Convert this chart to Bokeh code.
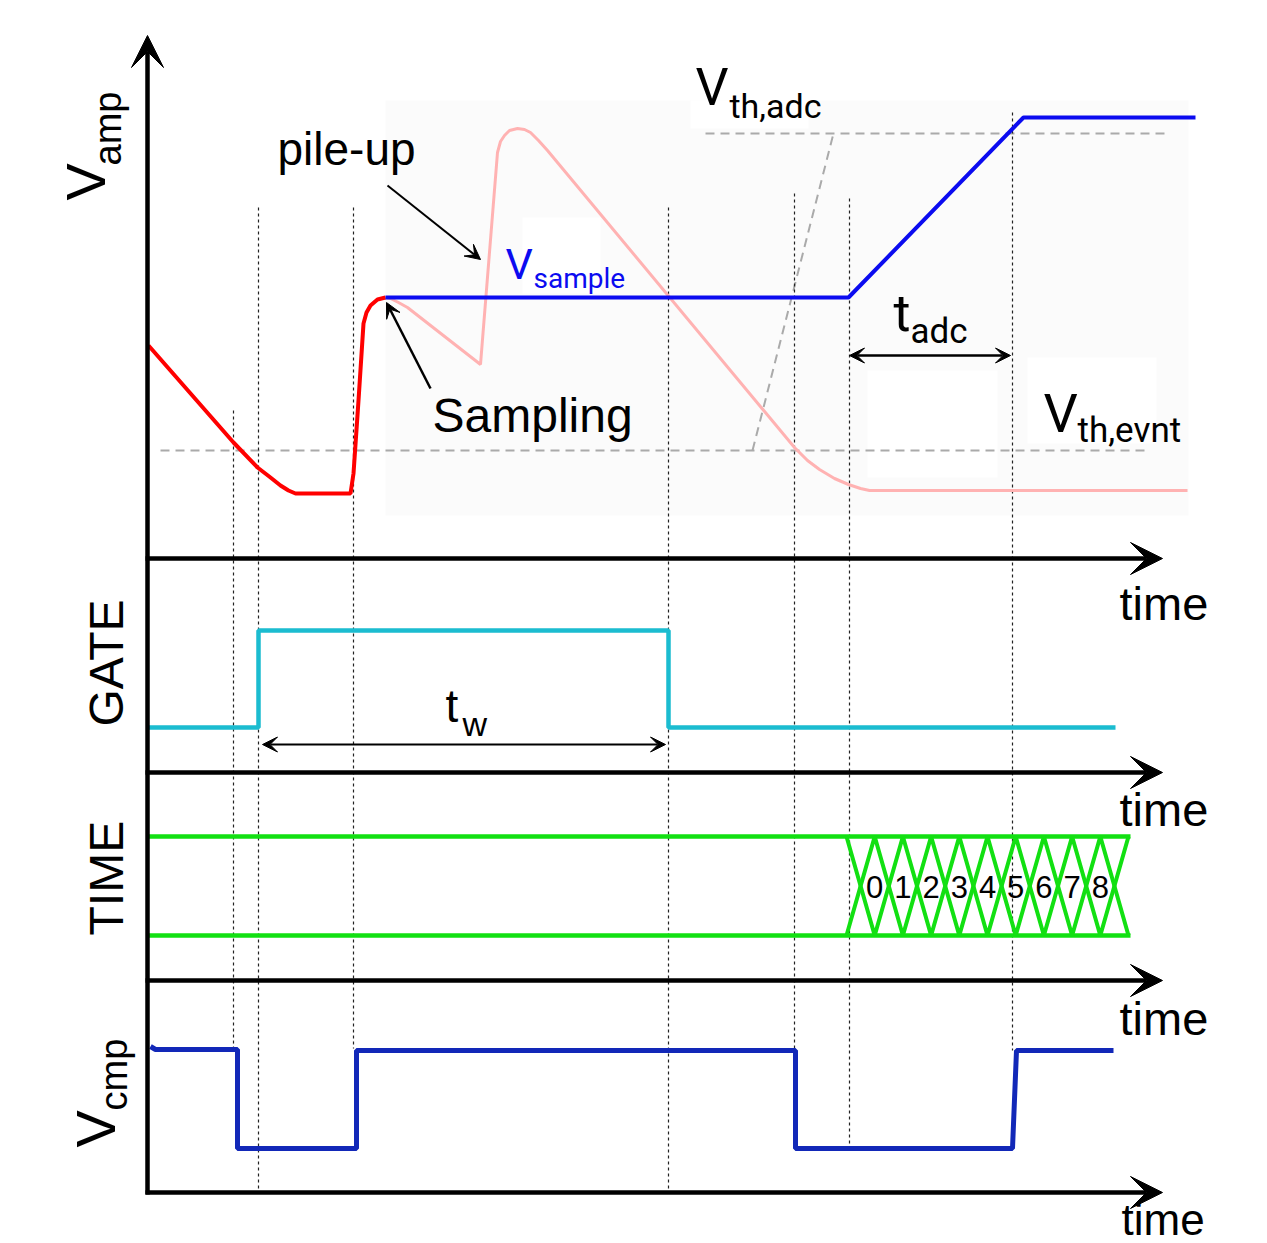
import numpy as np
from bokeh.plotting import figure
from bokeh.models import Range1d, Arrow, VeeHead
from bokeh.core.properties import value
from bokeh.embed import file_html
from bokeh.resources import INLINE

# ---------------- data (diagram units: x = time, y = level; y axis grows downward) -------------
# amplifier output before sampling (red)
amp_t = [148, 233, 257, 270, 280, 288, 295, 350, 353, 358, 363, 366, 370, 377, 385]
amp_v = [345, 442, 467, 477, 485, 490, 493, 493, 473, 400, 323, 312, 305, 299, 297]
# amplifier output continuing with pile-up (pink)
pile_t = [385, 390, 398, 407, 480, 497, 500, 504, 509, 517, 524, 530, 538, 547, 794, 807, 819, 834, 848, 860, 869, 1187]
pile_v = [297, 298, 302, 307, 364, 152, 141, 135, 130, 128, 129, 132, 140, 150, 447, 460, 469, 478, 484, 488, 490, 490]
# sampled voltage and ADC ramp (blue)
samp_t = [385, 848, 1023, 1195]
samp_v = [297, 297, 117, 117]
# GATE signal
gate_t = [148, 258, 258, 668, 668, 1115]
gate_v = [727, 727, 630, 630, 727, 727]
# comparator output
cmp_t = [150, 155, 237, 237, 356, 356, 795, 795, 1012, 1016, 1113]
cmp_v = [1046, 1049, 1049, 1148, 1148, 1050, 1050, 1148, 1148, 1050, 1050]
# TIME bus
bus_levels = [836, 935]
bus_t0, bus_t1 = 148, 1130
bus_start, bus_cell = 846, 28.2
bus_labels = ["0", "1", "2", "3", "4", "5", "6", "7", "8"]
# thresholds
vth_evnt = 450
vth_adc = 133
# event markers (dotted lines): time, top, bottom
mark_t = [233, 258, 353, 668, 794, 849, 1012]
mark_top = [410, 207, 207, 207, 193, 198, 112]
mark_bot = [1048, 1188, 1048, 1190, 1050, 1146, 1050]
# time axes
time_axes = [558, 772, 980, 1192]

W, H = 1267, 1243
p = figure(width=W, height=H, x_range=Range1d(0, W), y_range=Range1d(H, 0),
           output_backend="svg", toolbar_location=None, min_border=0,
           x_axis_type=None, y_axis_type=None)
p.grid.visible = False
p.outline_line_color = None
p.background_fill_color = "white"
p.border_fill_color = "white"

# faint background panel
p.quad(left=[385], right=[1188], top=[100], bottom=[515], fill_color="#fbfbfb", line_color=None)
p.quad(left=[522, 867, 1027, 690], right=[600, 997, 1156, 808], top=[217, 370, 357, 100],
       bottom=[293, 477, 443, 128], fill_color="white", line_color=None)

# thresholds
p.segment(x0=[160, 705], y0=[vth_evnt, vth_adc], x1=[1148, 1165], y1=[vth_evnt, vth_adc],
          line_color="#aaaaaa", line_width=2, line_dash="9 6")
p.segment(x0=[752], y0=[vth_evnt], x1=[833], y1=[vth_adc], line_color="#aaaaaa",
          line_width=2, line_dash="9 6")

# dotted markers
p.segment(x0=mark_t, y0=mark_top, x1=mark_t, y1=mark_bot, line_color="#222222",
          line_width=1.2, line_dash="3 3")

# waveforms
p.line(pile_t, pile_v, line_color="#ffb2b2", line_width=3)
p.line(amp_t, amp_v, line_color="#ff0000", line_width=4)
p.line(samp_t, samp_v, line_color="#0b0bf0", line_width=4)
p.line(gate_t, gate_v, line_color="#1bbcd0", line_width=4.5)
p.line(cmp_t, cmp_v, line_color="#1228b8", line_width=5)

# TIME bus
green = "#12e012"
p.segment(x0=[bus_t0] * 2, y0=bus_levels, x1=[bus_t1] * 2, y1=bus_levels, line_color=green, line_width=4.5)
n_v = len(bus_labels) + 2
vx = [bus_start + bus_cell * j for j in range(n_v)]
z1 = [bus_levels[j % 2] for j in range(n_v)]
z2 = [bus_levels[(j + 1) % 2] for j in range(n_v)]
p.line(vx, z1, line_color=green, line_width=4)
p.line(vx, z2, line_color=green, line_width=4)

# axes with arrows
for ya in time_axes:
    p.add_layout(Arrow(end=VeeHead(size=32, fill_color="black", line_color="black"),
                       x_start=145, y_start=ya, x_end=1162, y_end=ya, line_width=4.5, line_color="black"))
p.add_layout(Arrow(end=VeeHead(size=32, fill_color="black", line_color="black"),
                   x_start=147, y_start=1194, x_end=147, y_end=35, line_width=4.5, line_color="black"))

# annotation arrows
def small_head():
    return VeeHead(size=15, fill_color="black", line_color="black")

p.add_layout(Arrow(end=small_head(), x_start=387, y_start=185, x_end=480, y_end=259, line_width=2))
p.add_layout(Arrow(end=small_head(), x_start=430, y_start=388, x_end=386, y_end=302, line_width=2.5))
p.add_layout(Arrow(start=small_head(), end=small_head(), x_start=262, y_start=744, x_end=665, y_end=744, line_width=2))
p.add_layout(Arrow(start=small_head(), end=small_head(), x_start=849, y_start=355, x_end=1010, y_end=355, line_width=2.5))

SHIFT = 0.35  # compensation (em) so the glyph baseline lands on the intended line


def txt(x, y, s, size, font="Liberation Sans", color="black", angle=0.0, align="left"):
    if angle:
        x = x - SHIFT * size
    else:
        y = y - SHIFT * size
    p.text(x=[x], y=[y], text=[s], text_font=value(font), text_font_size=f"{size}px",
           text_color=color, angle=angle, text_align=align, text_baseline="alphabetic")


p.text(x=vx[1:-1], y=[897 - SHIFT * 31] * len(bus_labels), text=bus_labels,
       text_font=value("Liberation Sans"), text_font_size="31px", text_align="center",
       text_baseline="alphabetic", text_color="black")

txt(277, 165, "pile-up", 46)
txt(432, 432, "Sampling", 48)
txt(505, 279, "V", 43, "Roboto", "#0b0bf0")
txt(533, 288, "sample", 28, "Roboto", "#0b0bf0")
txt(695, 105, "V", 52, "Roboto")
txt(729, 117, "th,adc", 34, "Roboto")
txt(893, 331, "t", 52, "Roboto")
txt(910, 343, "adc", 35, "Roboto")
txt(1043, 432, "V", 54, "Roboto")
txt(1077, 442, "th,evnt", 35, "Roboto")
txt(445, 722, "t", 46)
txt(462, 735, "w", 34)
for yb in [619, 825, 1034]:
    txt(1119, yb, "time", 47)
txt(1121, 1234, "time", 44)

up = np.pi / 2
txt(105, 200, "V", 56, angle=up)
txt(121, 165, "amp", 38, angle=up)
txt(123, 726, "GATE", 48, angle=up)
txt(123, 935, "TIME", 48, angle=up)
txt(115, 1147, "V", 56, angle=up)
txt(127, 1110, "cmp", 38, angle=up)

open("out.html", "w").write(file_html(p, INLINE))
